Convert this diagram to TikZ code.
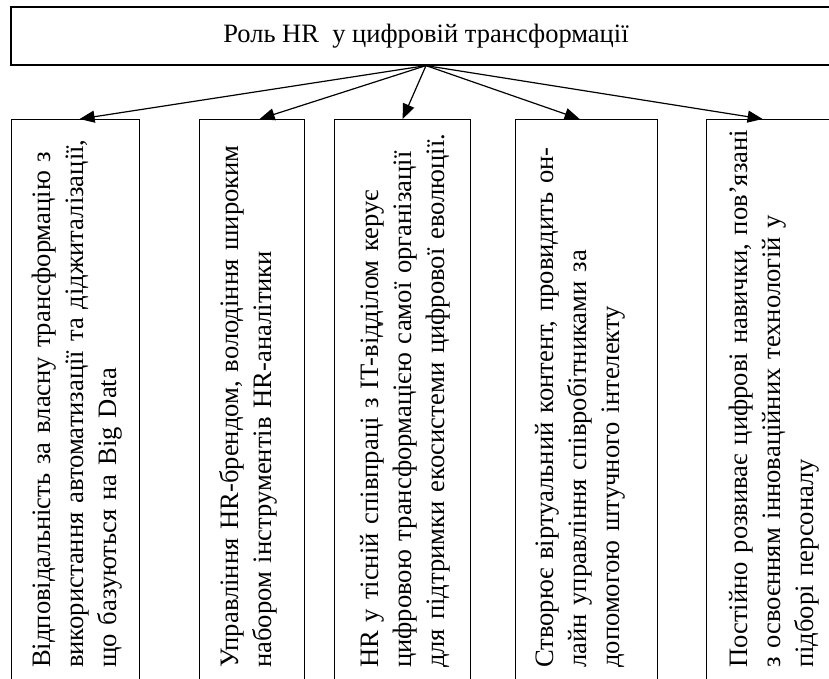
\documentclass[tikz,border=0pt]{standalone}
\usepackage{fontspec}
\setmainfont{Liberation Serif}
\usepackage{tikz}
\usetikzlibrary{arrows.meta,positioning}
\tikzset{
  rolebox/.style={draw, line width=1.2pt, minimum width=830pt, minimum height=58pt,
    inner sep=0pt, font=\fontsize{26.5}{30}\selectfont},
  colbox/.style={draw, line width=1.2pt, anchor=north west, minimum height=580pt, inner sep=0pt},
  coltext/.style={rotate=90, anchor=base west, align=left, text width=600pt,
    inner sep=0pt, font=\fontsize{26.6}{33}\selectfont},
  link/.style={-{Triangle[length=15pt, width=12pt]}, line width=1.2pt}
}

\begin{document}
\begin{tikzpicture}[x=1pt, y=1pt]
\useasboundingbox (0,0) rectangle (829,-678);
\node[rolebox] (role) at (426,-36) {Роль HR~ у цифровій трансформації};

\node[colbox, minimum width=128pt] (b1) at (11,-119) {};
\node[colbox, minimum width=105pt] (b2) at (199,-119) {};
\node[colbox, minimum width=136pt] (b3) at (334,-119) {};
\node[colbox, minimum width=142pt] (b4) at (515,-119) {};
\node[colbox, minimum width=140pt] (b5) at (706,-119) {};

\node[coltext] (t1) at (50,-668) {Відповідальність за власну трансформацію з\\
  використання автоматизації та діджиталізації,\\ що базуються на Big Data};
\node[coltext] (t2) at (238,-668) {Управління HR-брендом, володіння широким\\
  набором інструментів HR-аналітики};
\node[coltext] (t3) at (378,-668) {HR у тісній співпраці з IT-відділом керує\\
  цифровою трансформацією самої організації\\ для підтримки екосистеми цифрової еволюції.};
\node[coltext] (t4) at (553,-668) {Створює віртуальний контент, провидить он-\\
  лайн управління співробітниками за\\ допомогою штучного інтелекту};
\node[coltext] (t5) at (747,-668) {Постійно розвиває цифрові навички, пов'язані\\
  з освоєнням інноваційних технологій у\\ підборі персоналу};

\draw[link] (role.south) -- ([xshift=4pt]b1.north);
\draw[link] (role.south) -- ([xshift=7.5pt]b2.north);
\draw[link] (role.south) -- (b3.north);
\draw[link] (role.south) -- ([xshift=-7pt]b4.north);
\draw[link] (role.south) -- ([xshift=-14pt]b5.north);
\end{tikzpicture}
\end{document}
